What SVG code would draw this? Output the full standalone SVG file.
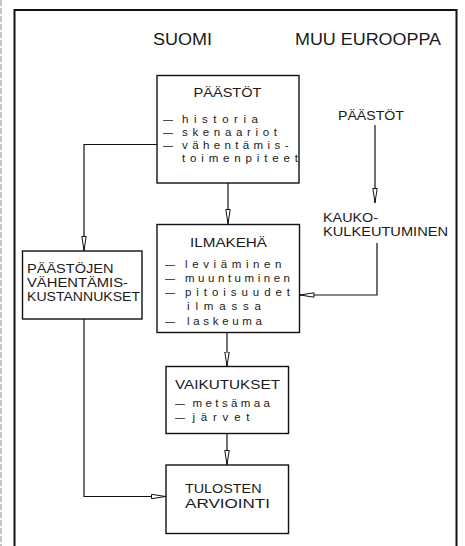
<svg xmlns="http://www.w3.org/2000/svg" width="465" height="546" viewBox="0 0 465 546">
<style>
text{font-family:"Liberation Sans",Arial,sans-serif;fill:#1a1a1a;font-size:13px}
.t{font-size:16px}
.i{font-size:11.5px}
.box{fill:#fff;stroke:#111;stroke-width:1.4}
.ln{fill:none;stroke:#111;stroke-width:1.2}
</style>
<defs>
<marker id="ah" viewBox="0 0 15 6" refX="15" refY="3" markerUnits="userSpaceOnUse" markerWidth="15" markerHeight="6" orient="auto">
<path d="M0.5,0.8 L14.5,3 L0.5,5.2 z" fill="#fff" stroke="#111" stroke-width="1"/>
</marker>
</defs>
<rect width="465" height="546" fill="#fff"/>
<line x1="1" y1="0" x2="1" y2="546" stroke="#888" stroke-width="1" stroke-dasharray="6 2"/>
<path d="M14.5,547 V10 H456.5 V547" fill="none" stroke="#111" stroke-width="2"/>
<g id="labels">
<text class="t" x="153" y="45" textLength="59" lengthAdjust="spacingAndGlyphs">SUOMI</text>
<text class="t" x="295" y="45" textLength="146" lengthAdjust="spacingAndGlyphs">MUU EUROOPPA</text>
</g>
<g id="connectors">
<path class="ln" d="M228,183 V224" marker-end="url(#ah)"/>
<path class="ln" d="M157,144.5 H84 V251" marker-end="url(#ah)"/>
<path class="ln" d="M375,125 V203" marker-end="url(#ah)"/>
<path class="ln" d="M377,243 V295 H299.5" marker-end="url(#ah)"/>
<path class="ln" d="M227,332 V366.5" marker-end="url(#ah)"/>
<path class="ln" d="M227,433 V465" marker-end="url(#ah)"/>
<path class="ln" d="M84,319 V496.5 H166" marker-end="url(#ah)"/>
</g>
<g id="paastot">
<rect class="box" x="157" y="75.5" width="142" height="107.5"/>
<text x="193.5" y="96.5" textLength="68" lengthAdjust="spacingAndGlyphs">PÄÄSTÖT</text>
<text class="i" x="163" y="123" textLength="10" lengthAdjust="spacingAndGlyphs">–</text>
<text class="i" x="182" y="123" textLength="76" lengthAdjust="spacing">historia</text>
<text class="i" x="163" y="136" textLength="10" lengthAdjust="spacingAndGlyphs">–</text>
<text class="i" x="182" y="136" textLength="95" lengthAdjust="spacing">skenaariot</text>
<text class="i" x="163" y="149" textLength="10" lengthAdjust="spacingAndGlyphs">–</text>
<text class="i" x="182" y="149" textLength="106.5" lengthAdjust="spacing">vähentämis-</text>
<text class="i" x="182" y="162" textLength="116" lengthAdjust="spacing">toimenpiteet</text>
</g>
<g id="paastot-eu">
<text x="338" y="120" textLength="66" lengthAdjust="spacingAndGlyphs">PÄÄSTÖT</text>
</g>
<g id="kaukokulkeutuminen">
<text x="323" y="222" textLength="55" lengthAdjust="spacingAndGlyphs">KAUKO-</text>
<text x="323" y="235.5" textLength="125" lengthAdjust="spacingAndGlyphs">KULKEUTUMINEN</text>
</g>
<g id="ilmakeha">
<rect class="box" x="157" y="224.5" width="142.5" height="108"/>
<text x="190" y="247" textLength="77" lengthAdjust="spacingAndGlyphs">ILMAKEHÄ</text>
<text class="i" x="165" y="267.5" textLength="10" lengthAdjust="spacingAndGlyphs">–</text>
<text class="i" x="185" y="267.5" textLength="96.5" lengthAdjust="spacing">leviäminen</text>
<text class="i" x="165" y="281.5" textLength="10" lengthAdjust="spacingAndGlyphs">–</text>
<text class="i" x="185" y="281.5" textLength="105" lengthAdjust="spacing">muuntuminen</text>
<text class="i" x="165" y="295.5" textLength="10" lengthAdjust="spacingAndGlyphs">–</text>
<text class="i" x="185" y="295.5" textLength="105" lengthAdjust="spacing">pitoisuudet</text>
<text class="i" x="187" y="310" textLength="74" lengthAdjust="spacing">ilmassa</text>
<text class="i" x="165" y="324.5" textLength="10" lengthAdjust="spacingAndGlyphs">–</text>
<text class="i" x="187" y="324.5" textLength="75" lengthAdjust="spacing">laskeuma</text>
</g>
<g id="kustannukset">
<rect class="box" x="22.5" y="251" width="119.5" height="68"/>
<text x="27" y="273" textLength="86.5" lengthAdjust="spacingAndGlyphs">PÄÄSTÖJEN</text>
<text x="27" y="287" textLength="101" lengthAdjust="spacingAndGlyphs">VÄHENTÄMIS-</text>
<text x="27" y="301" textLength="113" lengthAdjust="spacingAndGlyphs">KUSTANNUKSET</text>
</g>
<g id="vaikutukset">
<rect class="box" x="166" y="366.5" width="122.5" height="67"/>
<text x="175" y="388.5" textLength="105" lengthAdjust="spacingAndGlyphs">VAIKUTUKSET</text>
<text class="i" x="175" y="406.5" textLength="10" lengthAdjust="spacingAndGlyphs">–</text>
<text class="i" x="192.5" y="406.5" textLength="77.5" lengthAdjust="spacing">metsämaa</text>
<text class="i" x="175" y="420.5" textLength="10" lengthAdjust="spacingAndGlyphs">–</text>
<text class="i" x="192.5" y="420.5" textLength="57" lengthAdjust="spacing">järvet</text>
</g>
<g id="tulosten">
<rect class="box" x="166" y="465" width="122.5" height="68.5"/>
<text x="185" y="493" textLength="76.5" lengthAdjust="spacingAndGlyphs">TULOSTEN</text>
<text x="185" y="508" textLength="85" lengthAdjust="spacingAndGlyphs">ARVIOINTI</text>
</g>
</svg>
